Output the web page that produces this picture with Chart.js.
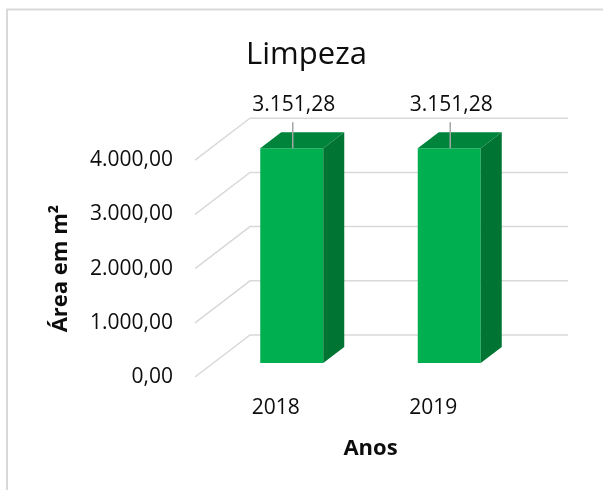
<!DOCTYPE html>
<html>
<head>
<meta charset="utf-8">
<script src="https://cdn.jsdelivr.net/npm/chart.js@4/dist/chart.umd.min.js"></script>
<style>
  body { margin: 0; background: #fff; }
</style>
</head>
<body>
<canvas id="chart" width="603" height="490"></canvas>
<script>
// data
const anos = ["2018", "2019"];
const area = [3151.28, 3151.28];
const yTicks = [0, 1000, 2000, 3000, 4000];

const textColor = "#0d0d0d";
const fontName = "'Open Sans', sans-serif";

// 3d look
const depthX = 21, depthY = -16;
const wallX = 55, wallY = -42;

function fmt(v) {
  let parts = v.toFixed(2).split(".");
  parts[0] = parts[0].replace(/\B(?=(\d{3})+(?!\d))/g, ".");
  return parts[0] + "," + parts[1];
}

// slanted grid lines, drawn behind the bars
const wallGrid = {
  id: "wallGrid",
  beforeDatasetsDraw(chart) {
    const ctx = chart.ctx;
    const y = chart.scales.y;
    const x0 = chart.chartArea.left - 18;
    ctx.save();
    ctx.strokeStyle = "#d9d9d9";
    ctx.lineWidth = 1.5;
    yTicks.forEach(function (v) {
      const py = y.getPixelForValue(v);
      ctx.beginPath();
      ctx.moveTo(x0, py);
      ctx.lineTo(x0 + wallX, py + wallY);
      ctx.lineTo(568, py + wallY);
      ctx.stroke();
    });
    ctx.restore();
  },
};

// bar sides, top faces and value labels
const barFaces = {
  id: "barFaces",
  afterDatasetsDraw(chart) {
    const ctx = chart.ctx;
    const meta = chart.getDatasetMeta(0);
    ctx.save();
    meta.data.forEach(function (bar, i) {
      const l = bar.x - bar.width / 2;
      const r = bar.x + bar.width / 2;
      const t = bar.y;
      const b = bar.base;

      ctx.fillStyle = "#00843c";
      ctx.beginPath();
      ctx.moveTo(l, t);
      ctx.lineTo(l + depthX, t + depthY);
      ctx.lineTo(r + depthX, t + depthY);
      ctx.lineTo(r, t);
      ctx.closePath();
      ctx.fill();

      ctx.fillStyle = "#007433";
      ctx.beginPath();
      ctx.moveTo(r, t);
      ctx.lineTo(r + depthX, t + depthY);
      ctx.lineTo(r + depthX, b + depthY);
      ctx.lineTo(r, b);
      ctx.closePath();
      ctx.fill();

      // leader line + label
      ctx.strokeStyle = "#a6a6a6";
      ctx.lineWidth = 1.5;
      ctx.beginPath();
      ctx.moveTo(bar.x + 1, t);
      ctx.lineTo(bar.x + 1, t - 26);
      ctx.stroke();

      ctx.fillStyle = textColor;
      ctx.font = "21px " + fontName;
      ctx.textAlign = "center";
      ctx.textBaseline = "middle";
      ctx.fillText(fmt(area[i]), bar.x + 2, t - 43);
    });
    ctx.restore();
  },
  afterDraw(chart) {
    // chart frame
    const ctx = chart.ctx;
    ctx.save();
    ctx.strokeStyle = "#d9d9d9";
    ctx.lineWidth = 2;
    ctx.beginPath();
    ctx.moveTo(7, 490);
    ctx.lineTo(7, 9.5);
    ctx.lineTo(603, 9.5);
    ctx.stroke();
    ctx.restore();
  },
};

const ctx = document.getElementById("chart").getContext("2d");
const myChart = new Chart(ctx, {
  type: "bar",
  data: {
    labels: anos,
    datasets: [
      {
        data: area,
        yAxisID: "yBar",
        backgroundColor: "#00b050",
        borderWidth: 0,
        barPercentage: 0.5,
        categoryPercentage: 0.8,
        clip: false,
      },
    ],
  },
  options: {
    responsive: false,
    animation: false,
    layout: {
      padding: { top: 10, right: 0, bottom: 0, left: 10 },
    },
    plugins: {
      legend: { display: false },
      tooltip: { enabled: false },
      title: {
        display: true,
        text: "Limpeza",
        color: textColor,
        font: { family: fontName, size: 31, weight: "normal" },
        padding: { top: 27, bottom: 86 },
      },
    },
    scales: {
      x: {
        afterFit: function (scale) {
          scale.height = 113;
        },
        grid: { display: false, drawTicks: false },
        border: { display: false },
        ticks: {
          color: textColor,
          font: { family: fontName, size: 21 },
          padding: 18,
          labelOffset: -16,
        },
        title: {
          display: true,
          text: "Anos",
          color: textColor,
          font: { family: fontName, size: 22, weight: "bold" },
          padding: { top: 0, bottom: 28 },
        },
      },
      y: {
        min: 0,
        max: 4000,
        afterBuildTicks: function (scale) {
          scale.ticks = yTicks.map(function (v) {
            return { value: v };
          });
        },
        afterFit: function (scale) {
          scale.width = 203;
        },
        grid: { display: false, drawTicks: false },
        border: { display: false },
        ticks: {
          color: textColor,
          font: { family: fontName, size: 21 },
          padding: 40,
          callback: function (v) {
            return fmt(v);
          },
        },
        title: {
          display: true,
          text: "Área em m²",
          color: textColor,
          font: { family: fontName, size: 22, weight: "bold" },
          padding: { top: 38, bottom: 0 },
        },
      },
      // bars sit in front of the walls, so they use their own scale (kept invisible)
      yBar: {
        position: "right",
        min: -204,
        max: 2976,
        afterFit: function (scale) {
          scale.width = 75;
        },
        grid: { display: false, drawTicks: false },
        border: { display: false },
        ticks: { display: false },
      },
    },
  },
  plugins: [wallGrid, barFaces],
});
</script>
</body>
</html>
